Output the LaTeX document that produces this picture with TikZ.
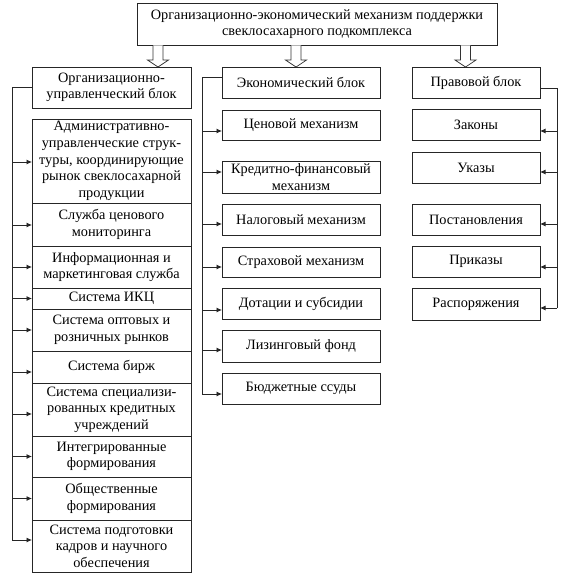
\documentclass[tikz,border=0pt]{standalone}
\usepackage{fontspec}
\setmainfont{Liberation Serif}
\usetikzlibrary{arrows.meta}
\begin{document}
\begin{tikzpicture}[x=1pt,y=-1pt,
  box/.style={draw=black!85, line width=0.8pt, inner sep=1pt, outer sep=0pt, align=center,
    font=\fontsize{14.3}{16.6}\selectfont},
  conn/.style={draw=black!85, line width=0.8pt},
  arr/.style={conn, -{Latex[length=5.5pt,width=5pt]}},
  hollow/.style={draw=black!80, line width=0.7pt, fill=white}]
\useasboundingbox[fill=white] (0,0) rectangle (565,581);
\newcommand\mybox[6]{\node[box, minimum width={#4-#2}, minimum height={#5-#3}] (#1) at ({(#2+#4)/2},{(#3+#5)/2}) {#6};}
\newcommand\feedL[3]{\coordinate (#2t) at ([yshift=#3]#2.west); \draw[arr] (#1 |- #2t) -- (#2t);}
\newcommand\feedR[3]{\coordinate (#2t) at ([yshift=#3]#2.east); \draw[arr] (#1 |- #2t) -- (#2t);}
\newcommand\hollowarrow[1]{\draw[hollow] ({#1-5},45.4) -- ({#1-5},60) -- ({#1-10.5},60) -- (#1,67) -- ({#1+10.5},60) -- ({#1+5},60) -- ({#1+5},45.4);}

% top
\mybox{top}{137}{3}{497}{45}{Организационно-экономический механизм поддержки\\свеклосахарного подкомплекса}

% headers
\mybox{org}{32}{67}{191}{108}{Организационно-\\управленческий блок}
\mybox{econ}{222}{67}{380}{98}{Экономический блок}
\mybox{legal}{412}{67}{540}{98}{Правовой блок}

\hollowarrow{158}
\hollowarrow{296}
\hollowarrow{465.5}

% left stack
\mybox{a1}{32}{119}{191}{203}{Административно-\\управленческие струк-\\туры, координирующие\\рынок свеклосахарной\\продукции}
\mybox{a2}{32}{203}{191}{246}{Служба ценового\\мониторинга}
\mybox{a3}{32}{246}{191}{288}{Информационная и\\маркетинговая служба}
\mybox{a4}{32}{288}{191}{309}{Система ИКЦ}
\mybox{a5}{32}{309}{191}{351}{Система оптовых и\\розничных рынков}
\mybox{a6}{32}{351}{191}{383}{Система бирж}
\mybox{a7}{32}{383}{191}{436}{Система специализи-\\рованных кредитных\\учреждений}
\mybox{a8}{32}{436}{191}{477}{Интегрированные\\формирования}
\mybox{a9}{32}{477}{191}{520}{Общественные\\формирования}
\mybox{a10}{32}{520}{191}{572}{Система подготовки\\кадров и научного\\обеспечения}

% middle
\mybox{b1}{222}{110}{380}{140}{Ценовой механизм}
\mybox{b2}{222}{161}{380}{193}{Кредитно-финансовый\\механизм}
\mybox{b3}{222}{204}{380}{235}{Налоговый механизм}
\mybox{b4}{222}{247}{380}{277}{Страховой механизм}
\mybox{b5}{222}{288}{380}{319}{Дотации и субсидии}
\mybox{b6}{222}{330}{380}{362}{Лизинговый фонд}
\mybox{b7}{222}{373}{380}{404}{Бюджетные ссуды}

% right
\mybox{c1}{412}{109}{540}{140}{Законы}
\mybox{c2}{412}{152}{540}{183}{Указы}
\mybox{c3}{412}{204}{540}{235}{Постановления}
\mybox{c4}{412}{246}{540}{277}{Приказы}
\mybox{c5}{412}{288}{540}{320}{Распоряжения}

% buses
\coordinate (lbus) at (12,87.5);
\coordinate (mbus) at (202,77);
\coordinate (rbus) at (557,88);

\feedL{lbus}{a1}{-1pt}
\feedL{lbus}{a2}{-0.5pt}
\feedL{lbus}{a3}{0pt}
\feedL{lbus}{a4}{0pt}
\feedL{lbus}{a5}{0pt}
\feedL{lbus}{a6}{-5pt}
\feedL{lbus}{a7}{-4.5pt}
\feedL{lbus}{a8}{0pt}
\feedL{lbus}{a9}{0pt}
\feedL{lbus}{a10}{6pt}
\draw[conn] (org.west) -- (lbus) -- (lbus |- a10t);

\feedL{mbus}{b1}{-6pt}
\feedL{mbus}{b2}{5pt}
\feedL{mbus}{b3}{-4.5pt}
\feedL{mbus}{b4}{-5pt}
\feedL{mbus}{b5}{-6.5pt}
\feedL{mbus}{b6}{-4pt}
\feedL{mbus}{b7}{-5.5pt}
\draw[conn] ([yshift=5.5pt]econ.west) -- (mbus) -- (mbus |- b7t);

\feedR{rbus}{c1}{-6.5pt}
\feedR{rbus}{c2}{-4.5pt}
\feedR{rbus}{c3}{-4.5pt}
\feedR{rbus}{c4}{-5.5pt}
\feedR{rbus}{c5}{-4pt}
\draw[conn] ([yshift=-5.5pt]legal.east) -- (rbus) -- (rbus |- c5t);
\end{tikzpicture}
\end{document}
